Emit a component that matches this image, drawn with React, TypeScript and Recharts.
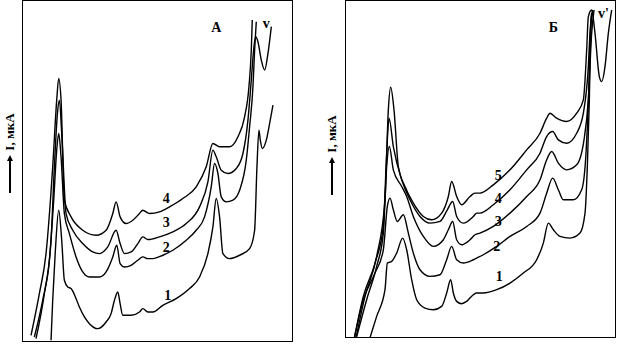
import React from 'react';
import { LineChart, Line, XAxis, YAxis, ReferenceDot } from 'recharts';

type Pt = [number, number]; // [potential, current], arbitrary units

// Panel A
const curveA1: Pt[] = [
  [15.5, 0.5], [16.0, 12.5], [16.8, 27.5], [17.8, 39.5], [18.7, 30.5], [19.5, 18.5], [20.5, 16.5],
  [21.5, 16], [22.8, 13.5], [24, 10.5], [25.5, 7.5], [27, 5.5], [29.5, 4], [32, 6], [33.5, 8.5],
  [34.5, 12.5], [35.5, 15], [36.2, 11.5], [37, 8], [39.5, 8], [42, 9], [43, 10], [44.5, 9], [46, 9],
  [49, 11], [53, 13], [57, 16], [60, 19.5], [62.5, 26.5], [64, 34.5], [65, 43], [66, 37.5], [67, 26.5],
  [69, 25], [72, 26], [75, 28], [76.5, 33.5], [77.2, 52.5], [77.8, 63.5], [78.2, 60.5], [78.8, 58],
  [80, 60.5], [81, 65.5], [82, 71],
];
const curveA2: Pt[] = [
  [10.5, 1.5], [13, 12.5], [15, 24.5], [16.3, 42.5], [17.2, 57.5], [17.8, 62.5], [18.5, 55.5],
  [19.5, 38.5], [21, 32.5], [23, 25.5], [25, 21], [27, 19.5], [30, 19.5], [32, 21], [34, 25.5],
  [35.2, 29], [36.2, 23.5], [37.5, 22.5], [39.5, 23], [41.5, 24.5], [43, 25.5], [44.5, 25], [46, 25],
  [49, 26], [52, 27.5], [56, 30.5], [59, 33.5], [61.5, 37.5], [63.5, 46.5], [64.5, 53.5], [65.5, 50.5],
  [66.5, 43.5], [68, 42], [70, 42.5], [72, 45.5], [74, 54.5], [75, 64.5], [76, 76.5], [76.5, 87.5], [77, 96],
];
const curveA3: Pt[] = [
  [11, 1], [13.5, 14.5], [15.5, 30.5], [16.5, 52.5], [17.5, 69.5], [18, 72.5], [18.8, 60.5], [20, 38.5],
  [22, 33.5], [25, 29.5], [28, 27], [30, 26.5], [32.5, 28.5], [35, 33.5], [36.2, 29.5], [37.5, 26.5],
  [39.5, 27], [41.5, 29.5], [43, 31.5], [44.5, 30.7], [48, 31.5], [52, 33], [56, 35.5], [60, 40.5],
  [62.5, 48], [64, 57.5], [65, 55.5], [66.5, 51.5], [68.5, 50.5], [71, 52], [73, 56.5], [74.5, 66.5],
  [75.5, 78.5], [76.2, 87.5], [76.8, 91.5], [77.5, 90], [78.5, 84.5], [79.5, 81.5], [80.5, 86.5], [81.5, 94.5],
];
const curveA4: Pt[] = [
  [9.5, 2], [12, 14.5], [14, 26.5], [16, 52.5], [17.2, 72.5], [17.8, 79], [18.5, 72.5], [19.5, 42.5],
  [21.5, 37.5], [25, 33.5], [29, 32], [32, 33.5], [34, 38.5], [35, 42], [36.2, 37.5], [38, 35.5],
  [40, 36.5], [42, 38.5], [43, 39.5], [45, 38.5], [48, 39], [51, 40.5], [55, 43], [59, 46.5], [62, 52.5],
  [64, 59.5], [66, 58.5], [69, 58.5], [71.5, 61.5], [73.5, 67.5], [74.8, 76.5], [75.5, 87.5], [75.8, 96.5],
];

// Panel Б
const curveB1: Pt[] = [
  [17.5, -1.5], [20, 6.5], [22.5, 14.5], [23.2, 22.5], [24.5, 23], [26, 25.5], [27.8, 30], [29, 26.5],
  [30.5, 17.5], [32, 11.5], [34.5, 9], [37, 8.5], [39.5, 9.5], [41, 13.5], [42.2, 17.5], [43, 13.5],
  [44, 11], [45.5, 10.3], [47, 11], [49, 13], [50, 13.5], [52, 13.5], [56, 14.5], [60, 16.5], [64, 19.5],
  [68, 23.5], [70, 28.5], [71.5, 34.5], [73, 32.5], [75, 30.5], [78, 30], [81, 31.5], [82.5, 37.5],
  [83.2, 51.5], [83.8, 71.5], [84.2, 91.5], [84.5, 97.5],
];
const curveB2: Pt[] = [
  [13, -1.5], [16, 11.5], [19.5, 19.5], [22, 26.5], [23.2, 39.5], [24, 42], [25, 38.5], [26.2, 35],
  [28, 37], [29.5, 31.5], [31, 25.5], [33, 20.5], [36, 18.5], [39, 19], [41, 23.5], [42.5, 27.5],
  [44, 23.5], [46, 22.5], [49, 23.5], [50, 24], [52, 25], [56, 27.5], [60, 30.5], [65, 33.5], [69, 37.5],
  [71, 43.5], [72.8, 48], [74.5, 44.5], [76, 41.5], [79, 41.5], [81.5, 44.5], [82.8, 55.5], [83.6, 73.5],
  [84.2, 93.5], [84.8, 98.5],
];
const curveB3: Pt[] = [
  [13.5, -1.5], [17, 11.5], [20, 21.5], [22, 31.5], [23, 51.5], [23.8, 57.5], [25, 50.5], [27.5, 45.5],
  [29, 42.5], [31, 36.5], [34, 30.5], [37, 27.5], [40, 29.5], [41.5, 32.5], [42.8, 35], [44, 29.5],
  [45.5, 28], [48, 29.5], [49.5, 31], [51, 31.5], [55, 33.5], [60, 37.5], [65, 42.5], [69, 47.5],
  [71, 53.5], [72.5, 56], [74.5, 52.5], [77, 50.5], [80, 52], [82.2, 59.5], [83.5, 71.5], [84.5, 91.5], [85.2, 98.5],
];
const curveB4: Pt[] = [
  [13, -1.5], [16, 12.5], [19.5, 22.5], [22, 33.5], [23, 55.5], [23.7, 66], [25, 57.5], [27.5, 47.5],
  [30, 41.5], [33, 36.5], [36, 34.5], [39, 35], [41.2, 38.5], [42.8, 41], [44, 36.5], [46, 34.5],
  [49, 36.5], [50, 37.5], [51, 37.5], [55, 40], [60, 44.5], [65, 50.5], [69, 55.5], [71, 60.5], [72.8, 62],
  [74.5, 59.5], [77, 58.5], [80, 61.5], [82, 67.5], [83.5, 81.5], [84, 91.5], [84.5, 97.5],
];
const curveB5: Pt[] = [
  [13.5, -1.5], [16.5, 12.5], [20, 24.5], [22.5, 41.5], [23.5, 68.5], [24.2, 75.3], [25.2, 68.5],
  [26.5, 51.5], [28.5, 45.5], [31, 40.5], [34, 36.5], [36.5, 35.5], [39.5, 37.5], [41.5, 42.5], [42.5, 47],
  [44, 42.5], [45.5, 40], [48, 42.5], [49.5, 43.5], [51, 43.5], [55, 46], [60, 50.5], [65, 56.5],
  [69, 61.5], [71, 66], [72, 67.5], [74, 66], [77, 65], [80, 67.5], [82, 71.5], [83, 86.5], [83.5, 96.5],
  [84.5, 98.5], [85.5, 91.5], [86.8, 78.5], [87.5, 77], [88.5, 81.5], [89.5, 91.5], [90.5, 98.5],
];

const ticksA = [18, 64.8];
const ticksB = [25.8, 71.8];

const labelsA = [
  { t: '4', e: 50, i: 43 },
  { t: '3', e: 50, i: 36 },
  { t: '2', e: 50, i: 28.5 },
  { t: '1', e: 50.5, i: 14 },
  { t: 'А', e: 65, i: 94.5 },
  { t: 'v', e: 80, i: 95.5 },
];
const labelsB = [
  { t: '5', e: 56.5, i: 49 },
  { t: '4', e: 56.5, i: 42 },
  { t: '3', e: 56.5, i: 35 },
  { t: '2', e: 56, i: 27.5 },
  { t: '1', e: 56.8, i: 18.5 },
  { t: 'Б', e: 73, i: 93.5 },
  { t: "v'", e: 88, i: 97.5 },
];

const toRows = (c: Pt[]) => c.map(([e, i]) => ({ e, i }));

interface PanelProps {
  left: number;
  width: number;
  height: number;
  xDomain: [number, number];
  yDomain: [number, number];
  ticks: number[];
  curves: Pt[][];
  labels: { t: string; e: number; i: number }[];
}

const Panel = ({ left, width, height, xDomain, yDomain, ticks, curves, labels }: PanelProps) => (
  <div style={{ position: 'absolute', left, top: 0, width, height }}>
    <LineChart width={width} height={height} margin={{ top: 0, right: 0, bottom: 0, left: 0 }}>
      <XAxis
        type="number"
        dataKey="e"
        domain={xDomain}
        ticks={ticks}
        allowDataOverflow
        mirror
        height={0}
        axisLine={false}
        tickLine={{ stroke: '#000', strokeWidth: 1.5 }}
        tickSize={5}
        tickFormatter={() => ''}
      />
      <YAxis type="number" dataKey="i" domain={yDomain} allowDataOverflow hide width={0} />
      {curves.map((c, k) => (
        <Line
          key={k}
          data={toRows(c)}
          dataKey="i"
          type="monotone"
          stroke="#000"
          strokeWidth={1.4}
          dot={false}
          isAnimationActive={false}
        />
      ))}
      {labels.map(l => (
        <ReferenceDot
          key={l.t}
          x={l.e}
          y={l.i}
          r={0}
          fill="none"
          stroke="none"
          ifOverflow="visible"
          label={{
            value: l.t,
            position: 'center',
            fill: '#000',
            fontSize: 14,
            fontWeight: 'bold',
            fontFamily: 'Liberation Serif',
          }}
        />
      ))}
    </LineChart>
    <div style={{ position: 'absolute', inset: 0, border: '1.5px solid #000', pointerEvents: 'none' }} />
  </div>
);

// rotated "→ I, мкА" axis caption
const YCaption = ({ cx, cy }: { cx: number; cy: number }) => (
  <div
    style={{
      position: 'absolute',
      left: cx - 50,
      top: cy - 8,
      width: 100,
      height: 16,
      transform: 'rotate(-90deg)',
      display: 'flex',
      alignItems: 'center',
      justifyContent: 'center',
      fontFamily: 'Liberation Serif',
      fontWeight: 'bold',
      fontSize: 13,
      color: '#000',
      whiteSpace: 'nowrap',
    }}
  >
    <span style={{ display: 'inline-block', width: 32, height: 1.5, background: '#000' }} />
    <span style={{ display: 'inline-block', width: 0, height: 0, borderTop: '3px solid transparent', borderBottom: '3px solid transparent', borderLeft: '6px solid #000', marginRight: 4 }} />
    <span>I, мкА</span>
  </div>
);

export default function App() {
  return (
    <div style={{ position: 'absolute', left: 0, top: 0, width: 621, height: 347, background: '#fff', overflow: 'hidden' }}>
      <YCaption cx={10} cy={153} />
      <Panel
        left={22}
        width={271}
        height={342}
        xDomain={[6.8, 88.0]}
        yDomain={[0, 102.5]}
        ticks={ticksA}
        curves={[curveA1, curveA2, curveA3, curveA4]}
        labels={labelsA}
      />
      <YCaption cx={332} cy={155} />
      <Panel
        left={345}
        width={271}
        height={338}
        xDomain={[10.5, 91.8]}
        yDomain={[0, 101.5]}
        ticks={ticksB}
        curves={[curveB1, curveB2, curveB3, curveB4, curveB5]}
        labels={labelsB}
      />
    </div>
  );
}
